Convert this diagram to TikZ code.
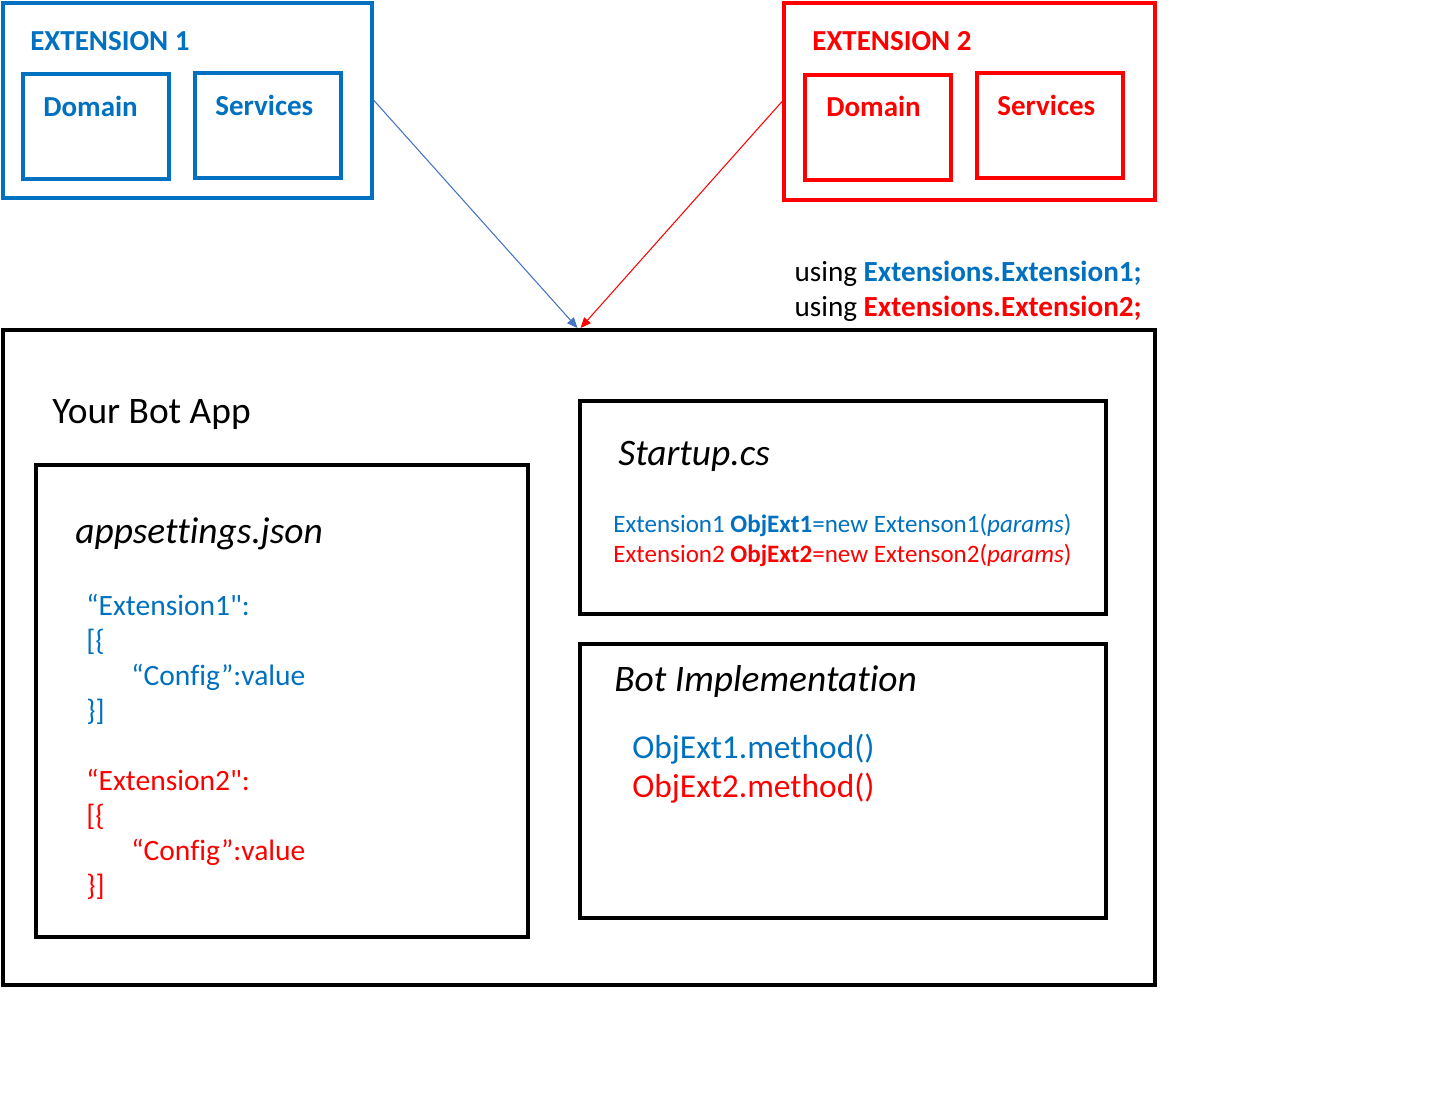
\documentclass[tikz,border=0pt]{standalone}
\usepackage{fontspec}
\setmainfont{Carlito}[Ligatures=NoCommon]
\newfontfamily\plainfont{Carlito}[Ligatures=NoCommon]
\usetikzlibrary{arrows.meta}
\definecolor{extblue}{HTML}{0070C0}
\definecolor{extred}{HTML}{FF0000}
\definecolor{arrblue}{HTML}{4472C4}

\begin{document}
\begin{tikzpicture}[x=0.02cm, y=-0.02cm,
    box/.style={draw, line width=2.3pt, inner sep=0pt},
    txt/.style={inner sep=0pt, anchor=base west},
    head/.style={txt, font=\fontsize{16.5pt}{19pt}\selectfont\bfseries},
    ttl/.style={txt, font=\fontsize{21.3pt}{25pt}\selectfont},
    ttlit/.style={txt, font=\fontsize{21.3pt}{25pt}\selectfont\itshape},
    code/.style={txt, font=\fontsize{14.25pt}{17pt}\selectfont},
    json/.style={txt, font=\fontsize{16.8pt}{20pt}\selectfont},
    meth/.style={txt, font=\fontsize{19pt}{23pt}\selectfont},
    link/.style={line width=0.6pt, -{Triangle[length=6pt, width=5pt]}}]
    \useasboundingbox (0,0) rectangle (1444,1110);

    % Extension 1
    \node[box, extblue, minimum width=7.38cm, minimum height=3.9cm] (ext1) at (187.5,100.5) {};
    \node[head, extblue] (ext1name) at (30,50) {EXTENSION 1};
    \node[box, extblue, minimum width=2.92cm, minimum height=2.1cm] (dom1) at (96,126.5) {};
    \node[head, extblue] (dom1name) at (43,116) {Domain};
    \node[box, extblue, minimum width=2.92cm, minimum height=2.1cm] (srv1) at (268,125.5) {};
    \node[head, extblue] (srv1name) at (215,115) {Services};

    % Extension 2
    \node[box, extred, minimum width=7.42cm, minimum height=3.94cm] (ext2) at (969.5,101.5) {};
    \node[head, extred] (ext2name) at (812,50) {EXTENSION 2};
    \node[box, extred, minimum width=2.92cm, minimum height=2.1cm] (dom2) at (878,127.5) {};
    \node[head, extred] (dom2name) at (826,116) {Domain};
    \node[box, extred, minimum width=2.92cm, minimum height=2.1cm] (srv2) at (1050,125.5) {};
    \node[head, extred] (srv2name) at (997,115) {Services};

    % usings
    \node[txt, anchor=base east, font=\fontsize{16.6pt}{19pt}\selectfont] (use1) at (1142,281)
        {using \textbf{\color{extblue}Extensions.Extension1;}};
    \node[txt, anchor=base east, font=\fontsize{16.6pt}{19pt}\selectfont] (use2) at (1142,316)
        {using \textbf{\color{extred}Extensions.Extension2;}};

    % Bot app
    \node[box, minimum width=23.04cm, minimum height=13.1cm] (app) at (579,657.5) {};
    \node[ttl] (appname) at (52,423) {Your Bot App};

    % appsettings
    \node[box, minimum width=9.84cm, minimum height=9.44cm] (settings) at (282,701) {};
    \node[ttlit] (settingsname) at (75,543) {appsettings.json};
    \foreach \c/\n/\y in {extblue/1/615, extred/2/790} {
        \node[json, \c] (key\n) at (86,\y) {“Extension\n{\plainfont"}:};
        \node[json, \c] (open\n) at (86,\y+35) {[\{};
        \node[json, \c] (cfg\n) at (131,\y+70) {“Config”:value};
        \node[json, \c] (close\n) at (86,\y+105) {\}]};
    }

    % Startup.cs
    \node[box, minimum width=10.52cm, minimum height=4.26cm] (startup) at (843,507.5) {};
    \node[ttlit] (startupname) at (618,465) {Startup.cs};
    \node[code, extblue] (new1) at (613,532)
        {Extension1 \textbf{ObjExt1}=new Extenson1(\textit{params})};
    \node[code, extred] (new2) at (613,562)
        {Extension2 \textbf{ObjExt2}=new Extenson2(\textit{params})};

    % Bot implementation
    \node[box, minimum width=10.52cm, minimum height=5.48cm] (impl) at (843,781) {};
    \node[ttlit] (implname) at (614,691) {Bot Implementation};
    \node[meth, extblue] (call1) at (632,758) {ObjExt1.method()};
    \node[meth, extred] (call2) at (632,797) {ObjExt2.method()};

    % references
    \draw[link, arrblue] (ext1.east) -- ([xshift=-0.03cm]app.north);
    \draw[link, extred] (ext2.west) -- ([xshift=0.03cm]app.north);
\end{tikzpicture}
\end{document}
